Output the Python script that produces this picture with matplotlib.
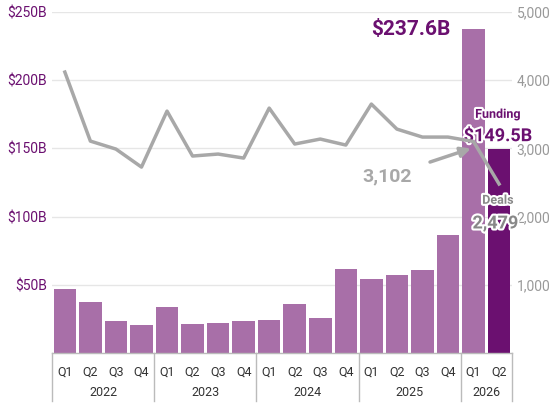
import matplotlib
matplotlib.use("Agg")
import matplotlib.pyplot as plt
import matplotlib.patheffects as pe

plt.rcParams['font.family'] = ['Roboto', 'DejaVu Sans']

quarters = ["Q1","Q2","Q3","Q4"]*4 + ["Q1","Q2"]
years = ["2022","2023","2024","2025","2026"]
year_counts = [4,4,4,4,2]
funding = [47.0,37.4,23.5,20.5,33.7,21.3,22.0,23.5,24.2,36.0,25.7,61.6,54.3,57.2,60.9,86.5,237.6,149.5]
deals = [4120,3108,2991,2727,3548,2889,2918,2859,3592,3065,3138,3050,3651,3284,3167,3167,3102,2479]

purple = "#6B1070"
light = "#A86FA8"
gray = "#A8A8A8"

fig = plt.figure(figsize=(5.6,4.03), dpi=100)
ax = fig.add_axes([0.093,0.124,0.821,0.846])
x = list(range(len(funding)))
colors = [light]*(len(funding)-1) + [purple]
ax.bar(x, funding, width=0.88, color=colors, zorder=2)
ax.set_ylim(0,250)
ax.set_xlim(-0.5,len(funding)-0.5)
ax.set_yticks([50,100,150,200,250])
ax.set_yticklabels(["$50B","$100B","$150B","$200B","$250B"], color=purple, fontsize=10)
ax.grid(axis='y', color='#E6E6E6', lw=1, zorder=0)
for s in ax.spines.values(): s.set_visible(False)
ax.tick_params(length=0)
ax.set_xticks([])

ax2 = ax.twinx()
ax2.plot(x, deals, color=gray, lw=2.5, zorder=3)
ax2.set_ylim(0,5000)
ax2.set_yticks([1000,2000,3000,4000,5000])
ax2.set_yticklabels(["1,000","2,000","3,000","4,000","5,000"], color="#999999", fontsize=10)
for s in ax2.spines.values(): s.set_visible(False)
ax2.tick_params(length=0)

# category axis
tr = ax.get_xaxis_transform()
for i,q in enumerate(quarters):
    ax.text(i, -0.055, q, transform=tr, ha='center', va='center', fontsize=9, color='#333333')
pos = -0.5
for y,c in zip(years, year_counts):
    ax.plot([pos,pos],[0,-0.14], transform=tr, color='#BBBBBB', lw=1, clip_on=False)
    ax.text(pos+c/2, -0.115, y, transform=tr, ha='center', va='center', fontsize=9, color='#333333')
    pos += c
ax.plot([pos,pos],[0,-0.14], transform=tr, color='#BBBBBB', lw=1, clip_on=False)
ax.plot([-0.5,pos],[0,0], transform=tr, color='#BBBBBB', lw=1, clip_on=False)

outline = [pe.withStroke(linewidth=3, foreground='white')]
ax.text(15.1, 237.6, "$237.6B", ha='right', va='center', fontsize=15, fontweight='bold', color=purple)
ax.text(16.95, 175, "Funding", ha='center', va='center', fontsize=9, fontweight='bold', color=purple, path_effects=outline)
ax.text(16.95, 159, "$149.5B", ha='center', va='center', fontsize=13, fontweight='bold', color=purple, path_effects=outline)
ax2.annotate("3,102", xy=(15.9, 3000), xytext=(12.6, 2590), ha='center', va='center',
             fontsize=14, fontweight='bold', color=gray,
             arrowprops=dict(arrowstyle='-|>', color=gray, lw=2.5, mutation_scale=15, shrinkA=12, shrinkB=0))
ax2.text(16.95, 2240, "Deals", ha='center', va='center', fontsize=9, fontweight='bold', color='#888888', path_effects=outline)
ax2.text(16.85, 1900, "2,479", ha='center', va='center', fontsize=13, fontweight='bold', color='#888888', path_effects=outline)

fig.savefig("out.png", dpi=100)
